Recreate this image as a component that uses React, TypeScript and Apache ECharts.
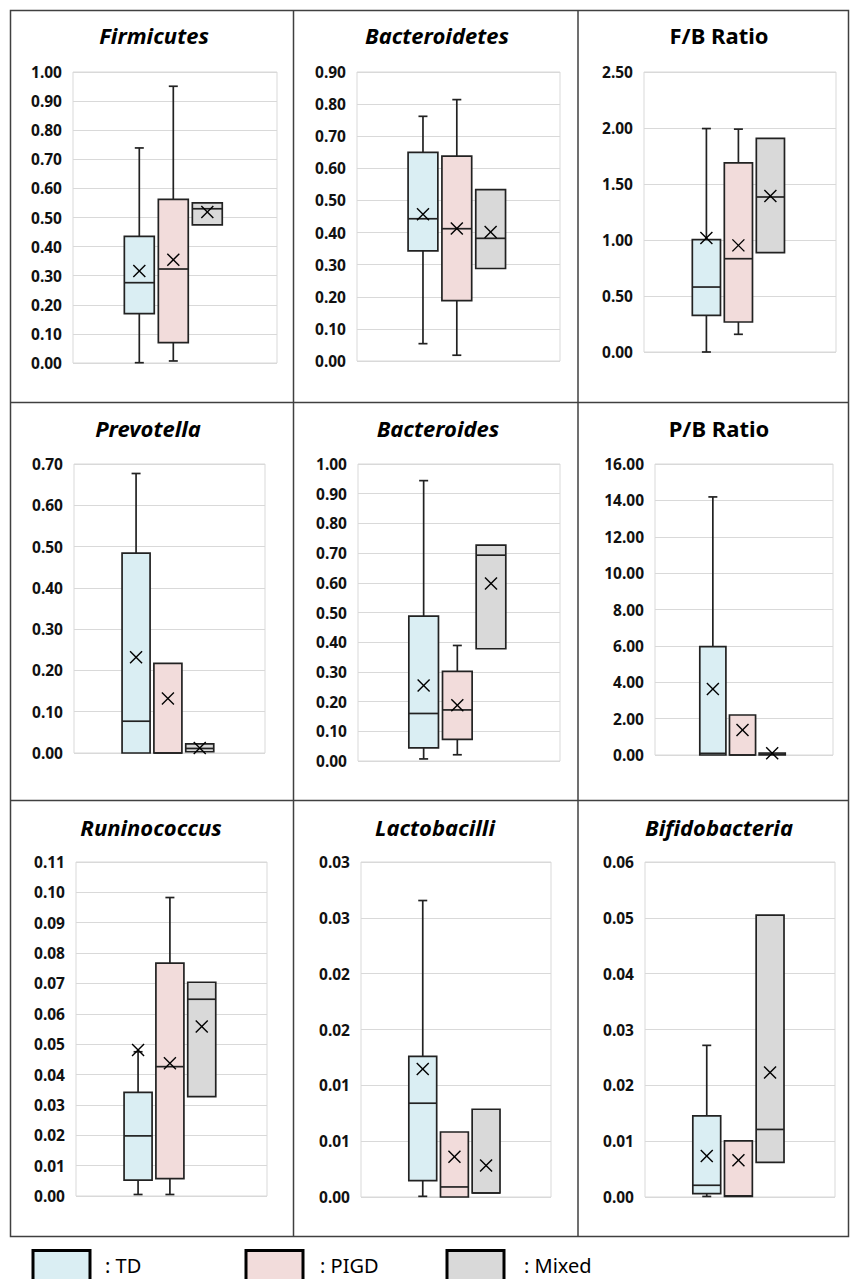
import React, { useEffect, useRef } from "react";
import * as echarts from "echarts";

// ---------- data ----------
const groups = ["TD", "PIGD", "Mixed"];
const groupColors = ["#DAEEF3", "#F2DCDB", "#D9D9D9"];

const titles = [
  "Firmicutes", "Bacteroidetes", "F/B Ratio",
  "Prevotella", "Bacteroides", "P/B Ratio",
  "Runinococcus", "Lactobacilli", "Bifidobacteria",
];
const italicTitles = [true, true, false, true, true, false, true, true, true];

const axisMax = [1.0, 0.9, 2.5, 0.7, 1.0, 16, 0.11, 0.03, 0.06];
const axisStep = [0.1, 0.1, 0.5, 0.1, 0.1, 2, 0.01, 0.005, 0.01];

// each row: [min, q1, median, q3, max, mean] for TD, PIGD, Mixed
const firmicutes = [
  [0.001, 0.170, 0.276, 0.435, 0.739, 0.316],
  [0.007, 0.070, 0.323, 0.562, 0.951, 0.355],
  [0.475, 0.475, 0.530, 0.550, 0.550, 0.519],
];
const bacteroidetes = [
  [0.054, 0.343, 0.443, 0.650, 0.762, 0.457],
  [0.018, 0.188, 0.412, 0.638, 0.814, 0.413],
  [0.288, 0.288, 0.382, 0.534, 0.534, 0.402],
];
const fbRatio = [
  [0.0, 0.327, 0.58, 1.003, 1.995, 1.018],
  [0.158, 0.268, 0.833, 1.688, 1.99, 0.952],
  [0.887, 0.887, 1.384, 1.908, 1.908, 1.393],
];
const prevotella = [
  [0.0, 0.0, 0.077, 0.484, 0.677, 0.232],
  [0.0, 0.0, 0.0, 0.217, 0.217, 0.132],
  [0.003, 0.003, 0.011, 0.022, 0.022, 0.012],
];
const bacteroides = [
  [0.007, 0.044, 0.160, 0.488, 0.944, 0.254],
  [0.021, 0.073, 0.172, 0.302, 0.389, 0.188],
  [0.378, 0.378, 0.693, 0.727, 0.727, 0.598],
];
const pbRatio = [
  [0.0, 0.0, 0.09, 5.96, 14.19, 3.63],
  [0.0, 0.0, 0.0, 2.2, 2.2, 1.37],
  [0.0, 0.0, 0.05, 0.11, 0.11, 0.09],
];
const runinococcus = [
  [0.0005, 0.0052, 0.0198, 0.0341, 0.0475, 0.0481],
  [0.0005, 0.0057, 0.0426, 0.0767, 0.0983, 0.0437],
  [0.0327, 0.0327, 0.0648, 0.0704, 0.0704, 0.0558],
];
const lactobacilli = [
  [0.00006, 0.00147, 0.0084, 0.0126, 0.02655, 0.01146],
  [0.0, 0.0, 0.0009, 0.00582, 0.00582, 0.0036],
  [0.00036, 0.00036, 0.00036, 0.00786, 0.00786, 0.00282],
];
const bifidobacteria = [
  [0.0001, 0.0006, 0.0021, 0.01454, 0.02716, 0.00736],
  [0.0001, 0.0001, 0.0002, 0.01005, 0.01005, 0.0066],
  [0.0062, 0.0062, 0.0121, 0.0505, 0.0505, 0.0223],
];

const panelData = [
  firmicutes, bacteroidetes, fbRatio,
  prevotella, bacteroides, pbRatio,
  runinococcus, lactobacilli, bifidobacteria,
];

// ---------- layout ----------
const gridRects = [
  [73, 72, 204, 291],
  [357, 72, 203, 289],
  [644, 72, 192, 280],
  [74, 464, 191, 289],
  [358, 464, 202, 297],
  [655, 464, 178, 291],
  [76, 862, 191, 334],
  [361, 862, 190, 335],
  [645, 862, 190, 335],
];
const titlePos = [
  [154, 39], [437, 39], [719, 39],
  [148, 432], [438, 432], [719, 432],
  [151, 831], [435, 831], [719, 831],
];
const legendBoxX = [33, 246, 447];
const legendTextX = [105, 320, 524];

const FONT = '"Noto Sans", "Open Sans", sans-serif';
const INK = "#222222";

function fmt(v: number) {
  return (Math.round(v * 100 + 1e-6) / 100).toFixed(2);
}

function renderBox(params: any, api: any) {
  const slot = api.value(0);
  const gi = api.value(1);
  const lo = api.value(2);
  const q1 = api.value(3);
  const med = api.value(4);
  const q3 = api.value(5);
  const hi = api.value(6);
  const mean = api.value(7);
  const bw = api.size([1, 0])[0] * 0.88;
  const cap = 9;
  const pLo = api.coord([slot, lo]);
  const pQ1 = api.coord([slot, q1]);
  const pMed = api.coord([slot, med]);
  const pQ3 = api.coord([slot, q3]);
  const pHi = api.coord([slot, hi]);
  const pMean = api.coord([slot, mean]);
  const cx = pLo[0];
  const children: any[] = [];
  const lineStyle = { stroke: INK, lineWidth: 1.7 };
  if (hi > q3) {
    children.push({ type: "line", shape: { x1: cx, y1: pQ3[1], x2: cx, y2: pHi[1] }, style: lineStyle });
    children.push({ type: "line", shape: { x1: cx - cap / 2, y1: pHi[1], x2: cx + cap / 2, y2: pHi[1] }, style: lineStyle });
  }
  if (lo < q1) {
    children.push({ type: "line", shape: { x1: cx, y1: pQ1[1], x2: cx, y2: pLo[1] }, style: lineStyle });
    children.push({ type: "line", shape: { x1: cx - cap / 2, y1: pLo[1], x2: cx + cap / 2, y2: pLo[1] }, style: lineStyle });
  }
  children.push({
    type: "rect",
    shape: { x: cx - bw / 2, y: pQ3[1], width: bw, height: Math.max(pQ1[1] - pQ3[1], 1) },
    style: { fill: groupColors[gi], stroke: INK, lineWidth: 1.7 },
  });
  children.push({ type: "line", shape: { x1: cx - bw / 2, y1: pMed[1], x2: cx + bw / 2, y2: pMed[1] }, style: lineStyle });
  const m = 6;
  const xs = { stroke: "#000", lineWidth: 1.4 };
  children.push({ type: "line", shape: { x1: cx - m, y1: pMean[1] - m, x2: cx + m, y2: pMean[1] + m }, style: xs });
  children.push({ type: "line", shape: { x1: cx - m, y1: pMean[1] + m, x2: cx + m, y2: pMean[1] - m }, style: xs });
  return { type: "group", children };
}

export default function App() {
  const ref = useRef<HTMLDivElement>(null);
  useEffect(() => {
    if (!ref.current) return;
    const chart = echarts.init(ref.current, null, { renderer: "svg" });

    const grid: any[] = [];
    const xAxis: any[] = [];
    const yAxis: any[] = [];
    const series: any[] = [];
    const title: any[] = [];

    panelData.forEach((stats, p) => {
      const [l, t, w, h] = gridRects[p];
      grid.push({
        left: l, top: t, width: w, height: h,
        show: true, borderColor: "#D9D9D9", borderWidth: 1, backgroundColor: "#fff",
      });
      xAxis.push({ type: "value", gridIndex: p, min: 0.05, max: 6.05, show: false });
      yAxis.push({
        type: "value", gridIndex: p, min: 0, max: axisMax[p], interval: axisStep[p],
        axisLine: { show: false }, axisTick: { show: false },
        axisLabel: {
          formatter: (v: number) => fmt(v), color: "#111", fontWeight: "bold",
          fontSize: 15.5, fontFamily: FONT, margin: 11,
        },
        splitLine: { show: true, lineStyle: { color: "#D9D9D9", width: 1 } },
      });
      series.push({
        type: "custom",
        xAxisIndex: p,
        yAxisIndex: p,
        renderItem: renderBox,
        clip: false,
        data: stats.map((s, gi) => ({ name: groups[gi], value: [gi + 2, gi, ...s] })),
      });
      title.push({
        text: titles[p],
        left: titlePos[p][0],
        top: titlePos[p][1] - 15,
        textAlign: "center",
        padding: 0,
        textStyle: {
          fontFamily: FONT, fontSize: 22, fontWeight: "bold",
          fontStyle: italicTitles[p] ? "italic" : "normal", color: "#000",
        },
      });
    });

    const graphic: any[] = [
      { type: "rect", shape: { x: 10.5, y: 10.5, width: 838, height: 1226 }, style: { fill: "none", stroke: "#404040", lineWidth: 1.5 }, silent: true },
      { type: "line", shape: { x1: 293.5, y1: 10, x2: 293.5, y2: 1237 }, style: { stroke: "#404040", lineWidth: 1.5 } },
      { type: "line", shape: { x1: 578, y1: 10, x2: 578, y2: 1237 }, style: { stroke: "#404040", lineWidth: 1.5 } },
      { type: "line", shape: { x1: 10, y1: 402.5, x2: 849, y2: 402.5 }, style: { stroke: "#404040", lineWidth: 1.5 } },
      { type: "line", shape: { x1: 10, y1: 800.5, x2: 849, y2: 800.5 }, style: { stroke: "#404040", lineWidth: 1.5 } },
    ];
    groups.forEach((g, gi) => {
      graphic.push({
        type: "rect",
        shape: { x: legendBoxX[gi], y: 1250.5, width: 57, height: 32 },
        style: { fill: groupColors[gi], stroke: "#000", lineWidth: 3 },
      });
      graphic.push({
        type: "text",
        x: legendTextX[gi],
        y: 1265,
        style: { text: ": " + g, font: `20px ${FONT}`, fill: "#000", verticalAlign: "middle", align: "left" },
      });
    });

    chart.setOption({
      animation: false,
      backgroundColor: "#fff",
      title,
      grid,
      xAxis,
      yAxis,
      series,
      graphic,
    });
    return () => chart.dispose();
  }, []);
  return (
    <div
      ref={ref}
      style={{ position: "absolute", left: 0, top: 0, width: 850, height: 1279 }}
    />
  );
}
